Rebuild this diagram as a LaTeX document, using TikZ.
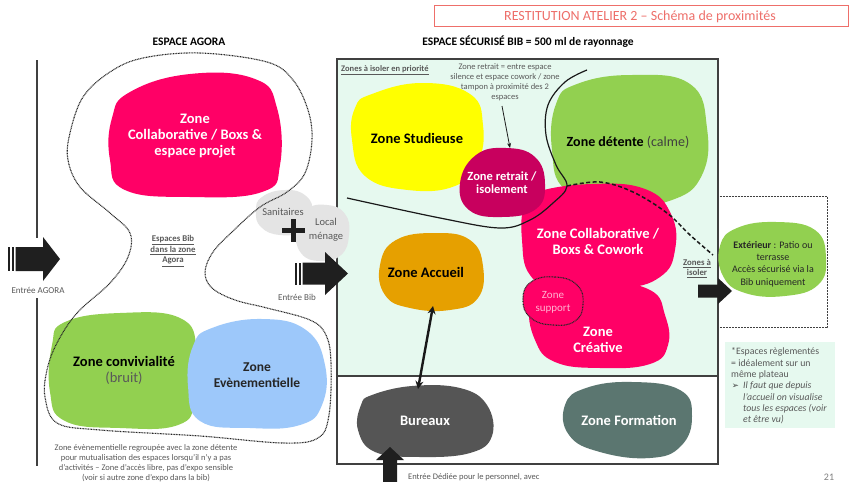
\documentclass[tikz,border=0pt]{standalone}
\usepackage{fontspec}
\setmainfont{Carlito}
\newfontfamily\symfont{DejaVu Sans}
\usetikzlibrary{arrows.meta}
\definecolor{magenta}{HTML}{FF0066}
\definecolor{darkmag}{HTML}{C8005E}
\definecolor{zyellow}{HTML}{FFFF00}
\definecolor{zgreen}{HTML}{92D050}
\definecolor{zorange}{HTML}{E6A000}
\definecolor{zdark}{HTML}{555555}
\definecolor{zform}{HTML}{5B7670}
\definecolor{zblue}{HTML}{9DC8FA}
\definecolor{mint}{HTML}{E6F9EF}
\definecolor{lgrey}{HTML}{E4E4E4}
\definecolor{txtgrey}{HTML}{595959}
\definecolor{pinktxt}{HTML}{FFB3D1}
\definecolor{salmon}{HTML}{EE6F6A}
\definecolor{frame}{HTML}{404040}
\tikzset{
  zonelbl/.style={font=\fontsize{14.5}{16}\selectfont\bfseries, align=center, inner sep=0pt},
  smallgrey/.style={font=\fontsize{8.5}{10}\selectfont, text=txtgrey, align=center, inner sep=0pt},
  ulbold/.style={font=\fontsize{8.5}{10.5}\selectfont\bfseries, text=txtgrey, align=center, inner sep=0pt},
  dotline/.style={draw=black!85, line width=1.1pt, dash pattern=on 0.9pt off 0.7pt},
  blockarrow/.style={fill=black!88, draw=none},
}
\begin{document}
\begin{tikzpicture}[x=1pt,y=-1pt]
\useasboundingbox (0,0) rectangle (849,482);
\fill[white] (0,0) rectangle (849,482);

% title
\draw[salmon, line width=0.6pt] (434,5) rectangle (848,26);
\node[font=\fontsize{14}{16}\selectfont, text=salmon, inner sep=0pt] (title) at (640,16.5) {RESTITUTION ATELIER 2 – Schéma de proximités};

\node[font=\fontsize{11.5}{13}\selectfont\bfseries, inner sep=0pt] (agoratitle) at (189,42) {ESPACE AGORA};
\node[font=\fontsize{11.5}{13}\selectfont\bfseries, inner sep=0pt] (bibtitle) at (528,42) {ESPACE SÉCURISÉ BIB = 500 ml de rayonnage};

% left vertical line
\draw[frame, line width=1.1pt] (37,60) -- (37,238);
\draw[frame, line width=1.1pt] (37,298) -- (37,466);

% Entrée AGORA arrow
\fill[black!88] (8,247) rectangle (10,271);
\fill[black!88] (12,247) rectangle (14,271);
\fill[blockarrow] (15.5,247) -- (43,247) -- (43,237) -- (60,259) -- (43,281) -- (43,271) -- (15.5,271) -- cycle;
\node[smallgrey, font=\fontsize{9}{10}\selectfont] (entreeagora) at (38,290) {Entrée AGORA};

% Bib rectangles
\fill[mint] (337,59) rectangle (718,376);
\fill[white] (337,376) rectangle (718,464);

% exterior dotted box
\draw[black!75, line width=0.9pt, dash pattern=on 0.8pt off 0.7pt] (718,196) -- (827,196) -- (827,327) -- (718,327);

\draw[frame, line width=1.3pt] (337,59) rectangle (718,464);
\draw[frame, line width=1.3pt] (337,376) -- (718,376);

\node[ulbold, anchor=west] (isolerprio) at (341,70) {\underline{Zones à isoler en priorité}};

% Agora blobs
\fill[magenta] plot[smooth cycle, tension=0.75] coordinates {(130,92) (190,74) (255,79) (277,108) (280,165) (262,192) (190,197) (125,190) (110,160) (112,118)};
\node[zonelbl, text=white] (collabagora) at (195,136) {Zone\\Collaborative / Boxs \&\\espace projet};

\fill[zgreen] plot[smooth cycle, tension=0.75] coordinates {(65,322) (120,313) (180,318) (197,350) (195,400) (178,425) (120,428) (65,421) (50,392) (52,345)};
\fill[zblue] plot[smooth cycle, tension=0.75] coordinates {(212,328) (262,319) (306,330) (325,365) (322,405) (300,425) (250,428) (200,421) (188,386) (193,346)};
\node[zonelbl] (conviv) at (124,370) {Zone convivialité\\{\mdseries\color{txtgrey}(bruit)}};
\node[zonelbl, font=\fontsize{13.5}{16}\selectfont\bfseries, text=black!85] (evenement) at (257,375) {Zone\\Evènementielle};

\node[ulbold, font=\fontsize{8.8}{10.5}\selectfont\bfseries] (bibagora) at (173,251) {\underline{Espaces Bib}\\\underline{dans la zone}\\\underline{Agora}};

% Sanitaires / local menage
\fill[lgrey] plot[smooth cycle, tension=0.8] coordinates {(262,197) (285,190) (306,196) (312,213) (301,231) (280,235) (261,227) (256,211)};
\fill[lgrey] plot[smooth cycle, tension=0.8] coordinates {(305,210) (327,205) (345,214) (349,235) (341,255) (320,261) (301,253) (296,230)};
\node[font=\fontsize{10.5}{12}\selectfont, text=txtgrey, inner sep=0pt] (sanitaires) at (283,212) {Sanitaires};
\node[font=\fontsize{10.5}{14}\selectfont, text=txtgrey, align=center, inner sep=0pt] (menage) at (326,230) {Local\\ménage};
\fill[black!88] (282,228) rectangle (305,233);
\fill[black!88] (291,219) rectangle (296,242);

% agora dotted outline
\draw[dotline] plot[smooth cycle, tension=0.6] coordinates {(200,53) (267,62) (293,80) (308,110) (312,140) (305,173) (287,192) (260,207) (232,232) (213,252) (205,272) (212,288) (235,300) (267,308) (310,320) (326,335) (331,363) (329,415) (318,438) (283,443) (200,436) (100,430) (57,423) (45,397) (47,370) (57,343) (77,313) (110,283) (128,257) (130,233) (110,213) (80,187) (68,160) (70,133) (83,97) (110,72) (143,58)};

% Entrée Bib arrow
\fill[black!88] (295,262.5) rectangle (297,284.5);
\fill[black!88] (299,262.5) rectangle (301,284.5);
\fill[blockarrow] (302.5,262.5) -- (325,262.5) -- (325,252) -- (348,273.5) -- (325,295) -- (325,284.5) -- (302.5,284.5) -- cycle;
\node[smallgrey, font=\fontsize{9}{10}\selectfont] (entreebib) at (297,297) {Entrée Bib};

\node[smallgrey] (agoranote) at (146,463.5) {Zone évènementielle regroupée avec la zone détente\\pour mutualisation des espaces lorsqu'il n'y a pas\\d'activités – Zone d'accès libre, pas d'expo sensible\\(voir si autre zone d'expo dans la bib)};

% Bib blobs
\fill[zyellow] plot[smooth cycle, tension=0.75] coordinates {(372,94) (422,83) (470,94) (483,125) (478,162) (455,186) (408,190) (365,176) (352,140) (355,108)};
\node[zonelbl] (studieuse) at (417,138) {Zone Studieuse};

\fill[zgreen] plot[smooth cycle, tension=0.75] coordinates {(577,84) (632,75) (690,84) (707,128) (702,175) (672,200) (620,205) (566,190) (552,150) (556,104)};
\node[zonelbl, font=\fontsize{14}{16}\selectfont\bfseries] (detente) at (628,142) {Zone détente {\mdseries\color{black!75}(calme)}};

\fill[magenta] plot[smooth cycle, tension=0.75] coordinates {(537,192) (592,184) (645,189) (671,214) (675,250) (660,277) (620,289) (560,291) (530,275) (522,240) (524,206)};
\fill[magenta] plot[smooth cycle, tension=0.75] coordinates {(548,287) (602,282) (650,290) (665,315) (668,345) (650,364) (600,368) (555,362) (535,340) (530,305)};

\fill[darkmag] plot[smooth cycle, tension=0.75] coordinates {(476,155) (506,148) (535,157) (545,184) (536,209) (502,217) (469,210) (460,183)};
\node[zonelbl, font=\fontsize{12.5}{13}\selectfont\bfseries, text=white] (retrait) at (502,183) {Zone retrait /\\isolement};

\node[zonelbl, text=white] (collabbib) at (598,241) {Zone Collaborative /\\Boxs \& Cowork};
\node[zonelbl, text=white] (creative) at (598,340) {Zone\\Créative};

\draw[dotline, fill=magenta] plot[smooth cycle, tension=0.8] coordinates {(531,282) (555,277) (577,285) (583,304) (575,321) (553,325) (531,318) (523,300)};
\node[font=\fontsize{11}{13}\selectfont, text=pinktxt, align=center, inner sep=0pt] (support) at (553,302) {Zone\\support};

\fill[zorange] plot[smooth cycle, tension=0.75] coordinates {(396,240) (436,233) (470,240) (483,266) (478,298) (450,310) (410,308) (385,295) (380,265)};
\node[zonelbl] (accueil) at (426,272) {Zone Accueil};

\fill[zdark] plot[smooth cycle, tension=0.7] coordinates {(372,395) (412,386) (460,388) (487,405) (492,436) (470,453) (420,457) (375,452) (358,430) (361,405)};
\node[zonelbl, text=white] (bureaux) at (425,421) {Bureaux};

\fill[zform] plot[smooth cycle, tension=0.75] coordinates {(586,388) (632,382) (680,390) (692,416) (681,446) (650,458) (600,452) (569,435) (565,405)};
\node[zonelbl, text=white] (formation) at (629,420) {Zone Formation};

% separating line and dashed line
\draw[black!90, line width=1.2pt] plot[smooth, tension=0.6] coordinates {(347,198) (440,218) (500,228) (530,220) (553,203) (567,186) (556,165) (546,135) (548,105) (565,82) (587,70)};
\draw[black!90, line width=1.5pt, dash pattern=on 4pt off 2.5pt] plot[smooth, tension=0.6] coordinates {(567,186) (600,182) (633,192) (667,213) (690,235) (713,255)};

% retrait note
\node[smallgrey] (retraitnote) at (505,82) {Zone retrait = entre espace\\silence et espace cowork / zone\\tampon à proximité des 2\\espaces};
\coordinate (retraittop) at (510,148);
\coordinate (rnstart) at (502,106);
\draw[black!90, line width=0.8pt, -{Stealth[length=5pt, width=4pt]}] (rnstart) -- (retraittop);

% accueil - bureaux double arrow
\coordinate (accS) at (433,306);
\coordinate (burN) at (418,389);
\draw[black!90, line width=2.4pt, {Stealth[length=8pt, width=8pt]}-{Stealth[length=8pt, width=8pt]}] (accS) -- (burN);

% Entrée dédiée arrow
\fill[blockarrow] (383,482) -- (383,460) -- (376,460) -- (390,447) -- (404,460) -- (397,460) -- (397,482) -- cycle;
\node[smallgrey, anchor=west] (entreededie) at (408,477) {Entrée Dédiée pour le personnel, avec};

% exterior
\fill[zgreen] plot[smooth cycle, tension=0.75] coordinates {(737,228) (776,222) (815,230) (826,258) (818,285) (785,296) (745,293) (723,276) (720,246)};
\node[font=\fontsize{10}{12.3}\selectfont, align=center, inner sep=0pt, text=black!85] (exterieur) at (773,264) {\textbf{Extérieur} : Patio ou\\terrasse\\Accès sécurisé via la\\Bib uniquement};
\fill[blockarrow] (698,284.5) -- (718,284.5) -- (718,278) -- (732,291) -- (718,304) -- (718,297.5) -- (698,297.5) -- cycle;
\node[ulbold, font=\fontsize{8.8}{9.5}\selectfont\bfseries] (isoler) at (697,268.5) {\underline{Zones à}\\\underline{isoler}};

% note box
\fill[mint] (725,342) rectangle (835,428);
\node[font=\fontsize{9.8}{11.3}\selectfont, text=txtgrey, align=left, inner sep=0pt, anchor=west] (note1) at (731,363.5) {*Espaces règlementés\\= idéalement sur un\\même plateau};
\node[font=\fontsize{8.5}{10}\symfont, text=black!75, inner sep=0pt] (bullet) at (735.5,386) {➢};
\node[font=\fontsize{9.8}{11.3}\selectfont\itshape, text=txtgrey, align=left, inner sep=0pt, anchor=west] (note2) at (743,403) {Il faut que depuis\\l'accueil on visualise\\tous les espaces (voir\\et être vu)};

\node[font=\fontsize{10}{11}\selectfont, text=black!50, inner sep=0pt] (pagenum) at (829,477) {21};
\end{tikzpicture}
\end{document}
